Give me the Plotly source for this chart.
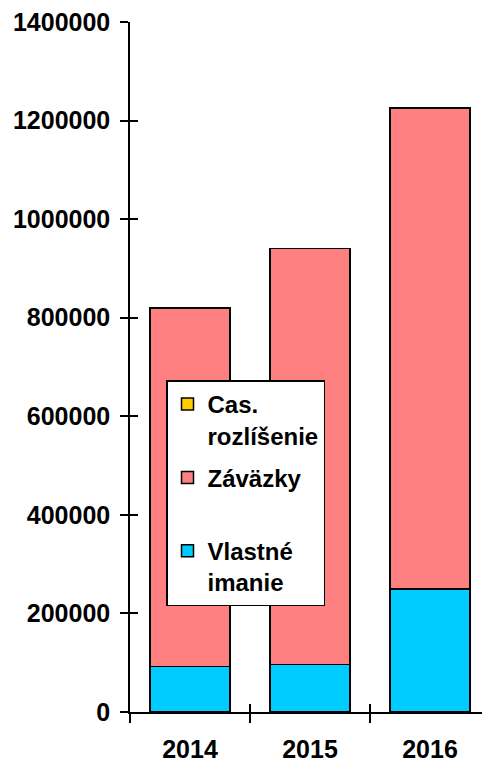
import plotly.graph_objects as go

years = ["2014", "2015", "2016"]
vlastne_imanie = [92000, 96000, 250000]
zavazky = [728000, 844000, 976000]
cas_rozlisenie = [0, 0, 0]
y_ticks = [0, 200000, 400000, 600000, 800000, 1000000, 1200000, 1400000]

FONT = "Liberation Sans, Arial, sans-serif"
line = dict(color="black", width=1.5)

fig = go.Figure()
fig.add_trace(go.Bar(x=years, y=vlastne_imanie, name="Vlastné<br>imanie",
                     legendgroup="v", legendrank=3,
                     marker=dict(color="#00CCFF", line=line)))
fig.add_trace(go.Bar(x=years, y=zavazky, name="Záväzky<br> ",
                     legendgroup="z", legendrank=2,
                     marker=dict(color="#FF8080", line=line)))
fig.add_trace(go.Bar(x=years, y=cas_rozlisenie, name="Cas.<br>rozlíšenie",
                     legendgroup="c", legendrank=1,
                     marker=dict(color="#FFCC00", line=line)))
# helper trace for the overlaid axes that draw the inner half of the tick marks
fig.add_trace(go.Scatter(x=[0], y=[0], xaxis="x2", yaxis="y2", mode="markers",
                         marker=dict(opacity=0), showlegend=False, hoverinfo="skip"))

fig.update_layout(
    width=482, height=755,
    margin=dict(l=122, r=0, t=12, b=50),
    barmode="stack", bargap=0.33,
    plot_bgcolor="white", paper_bgcolor="white",
    font=dict(family=FONT, size=25, color="black", weight="bold"),
    showlegend=True,
    legend=dict(
        x=0.1, y=0.4805, xanchor="left", yanchor="top",
        traceorder="grouped", tracegroupgap=8, valign="top",
        bgcolor="white", bordercolor="black", borderwidth=1.5,
        font=dict(family=FONT, size=24, color="black", weight="bold"),
        itemclick=False,
    ),
    xaxis=dict(
        type="category", range=[-0.5, 2.5], tickson="boundaries",
        ticks="outside", ticklen=9, tickwidth=1.5, tickcolor="black",
        showline=True, linecolor="black", linewidth=1.5,
        showgrid=False, zeroline=False, ticklabelstandoff=14,
    ),
    yaxis=dict(
        range=[0, 1400000], tickvals=y_ticks, tickformat="d",
        ticks="outside", ticklen=8, tickwidth=1.5, tickcolor="black",
        showline=True, linecolor="black", linewidth=1.5,
        showgrid=False, zeroline=False, ticklabelstandoff=5,
        ticklabeloverflow="allow",
    ),
    xaxis2=dict(
        overlaying="x", range=[-0.5, 2.5], tickvals=[0.5, 1.5],
        ticks="inside", ticklen=8, tickwidth=1.5, tickcolor="black",
        showticklabels=False, showline=False, showgrid=False, zeroline=False,
    ),
    yaxis2=dict(
        overlaying="y", range=[0, 1400000], tickvals=y_ticks,
        ticks="inside", ticklen=8, tickwidth=1.5, tickcolor="black",
        showticklabels=False, showline=False, showgrid=False, zeroline=False,
    ),
)

fig.write_html("out.html")
